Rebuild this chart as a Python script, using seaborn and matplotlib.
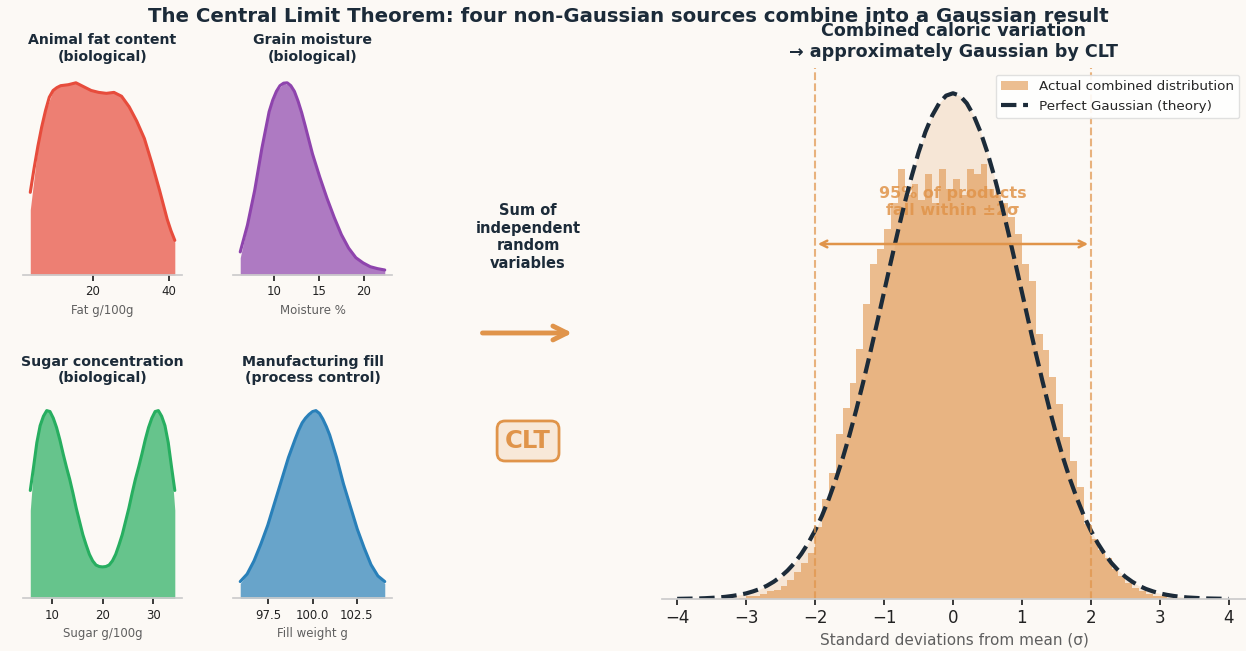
import matplotlib
matplotlib.use("Agg")
import matplotlib.pyplot as plt
import seaborn as sns

# colours
BG = "#fcf9f5"
NAVY = "#1c2b39"
ORANGE = "#e0944a"
GREY = "#5f5f5f"

# --- source distributions (relative heights) ---
# histogram outline (equal-width bins) and the smooth density line on top
fat_x = [3.5, 5.5, 7.5, 9.5, 11.5, 13.5, 15.5, 17.5, 19.5, 21.5,
         23.5, 25.5, 27.5, 29.5, 31.5, 33.5, 35.5, 37.5, 39.5, 41.5]
fat_hist = [0.34, 0.67, 0.855, 0.96, 0.985, 0.99, 1.00, 0.98, 0.96, 0.95,
            0.945, 0.95, 0.93, 0.875, 0.80, 0.71, 0.58, 0.44, 0.29, 0.17]
fat_line_x = [3.5, 4.5, 5.5, 6.5, 7.5, 8.5, 9.5, 10.5, 11.5, 13.5, 15.5, 17.5, 19.5,
              21.5, 23.5, 25.5, 27.5, 29.5, 31.5, 33.5, 35.5, 37.5, 39.5, 40.5, 41.5]
fat_line = [0.43, 0.555, 0.67, 0.77, 0.855, 0.925, 0.96, 0.975, 0.985, 0.99, 1.00, 0.98, 0.96,
            0.95, 0.945, 0.95, 0.93, 0.875, 0.80, 0.71, 0.58, 0.44, 0.29, 0.23, 0.18]

moist_x = [6.3, 7.1, 7.9, 8.7, 9.5, 10.3, 11.1, 11.9, 12.7, 13.5, 14.3,
           15.1, 15.9, 16.7, 17.5, 18.3, 19.1, 19.9, 20.7, 21.5, 22.3]
moist_hist = [0.09, 0.26, 0.44, 0.66, 0.85, 0.955, 0.998, 0.985, 0.905, 0.775, 0.63,
              0.51, 0.40, 0.30, 0.21, 0.14, 0.09, 0.063, 0.043, 0.033, 0.026]
moist_line_x = [6.3, 7.1, 7.9, 8.7, 9.5, 9.9, 10.3, 10.7, 11.1, 11.5, 11.9, 12.3, 12.7,
                13.1, 13.5, 14.3, 15.1, 15.9, 16.7, 17.5, 18.3, 19.1, 19.9, 20.7, 21.5, 22.3]
moist_line = [0.12, 0.26, 0.44, 0.66, 0.85, 0.91, 0.955, 0.985, 0.998, 1.00, 0.985, 0.955, 0.905,
              0.845, 0.775, 0.63, 0.51, 0.40, 0.30, 0.21, 0.14, 0.09, 0.063, 0.043, 0.033, 0.026]

sugar_x = [5.7, 6.35, 7.0, 7.65, 8.3, 8.95, 9.6, 10.25, 10.9, 11.55, 12.2, 12.85,
           13.5, 14.15, 14.8, 15.45, 16.1, 16.75, 17.4, 18.05, 18.7, 19.35, 20.0,
           20.65, 21.3, 21.95, 22.6, 23.25, 23.9, 24.55, 25.2, 25.85, 26.5, 27.15,
           27.8, 28.45, 29.1, 29.75, 30.4, 31.05, 31.7, 32.35, 33.0, 33.65, 34.3]
sugar_hist = [0.47, 0.70, 0.83, 0.92, 0.97, 1.00, 0.995, 0.96, 0.91, 0.845, 0.77, 0.70,
              0.635, 0.56, 0.48, 0.41, 0.34, 0.285, 0.235, 0.20, 0.178, 0.17, 0.168,
              0.17, 0.178, 0.20, 0.235, 0.285, 0.34, 0.41, 0.48, 0.56, 0.635, 0.70,
              0.77, 0.845, 0.91, 0.96, 0.995, 1.00, 0.97, 0.92, 0.83, 0.70, 0.47]
sugar_line_x = sugar_x
sugar_line = [0.575, 0.70, 0.83, 0.92, 0.97, 1.00, 0.995, 0.96, 0.91, 0.845, 0.77, 0.70,
              0.635, 0.56, 0.48, 0.41, 0.34, 0.285, 0.235, 0.20, 0.178, 0.17, 0.168,
              0.17, 0.178, 0.20, 0.235, 0.285, 0.34, 0.41, 0.48, 0.56, 0.635, 0.70,
              0.77, 0.845, 0.91, 0.96, 0.995, 1.00, 0.97, 0.92, 0.83, 0.70, 0.575]

fill_x = [95.90, 96.29, 96.68, 97.07, 97.46, 97.85, 98.24, 98.63, 99.02, 99.41, 99.80,
          100.19, 100.58, 100.97, 101.36, 101.75, 102.14, 102.53, 102.92, 103.31, 103.70, 104.09]
fill_hist = [0.08, 0.13, 0.20, 0.29, 0.39, 0.51, 0.63, 0.75, 0.85, 0.935, 0.98,
             1.00, 0.955, 0.87, 0.75, 0.61, 0.49, 0.37, 0.27, 0.18, 0.12, 0.08]
fill_line_x = [95.90, 96.29, 96.68, 97.07, 97.46, 97.85, 98.24, 98.63, 99.02, 99.21, 99.41,
               99.60, 99.80, 100.00, 100.19, 100.39, 100.58, 100.78, 100.97, 101.36, 101.75,
               102.14, 102.53, 102.92, 103.31, 103.70, 104.09]
fill_line = [0.09, 0.13, 0.20, 0.29, 0.39, 0.51, 0.63, 0.75, 0.85, 0.895, 0.935,
             0.96, 0.98, 0.995, 1.00, 0.985, 0.955, 0.915, 0.87, 0.75, 0.61,
             0.49, 0.37, 0.27, 0.18, 0.12, 0.09]

# --- combined distribution (density per 0.1-wide bin, in sigma units) ---
clt_centers = [-3.15, -3.05, -2.95, -2.85, -2.75, -2.65, -2.55, -2.45, -2.35, -2.25,
               -2.15, -2.05, -1.95, -1.85, -1.75, -1.65, -1.55, -1.45, -1.35, -1.25,
               -1.15, -1.05, -0.95, -0.85, -0.75, -0.65, -0.55, -0.45, -0.35, -0.25,
               -0.15, -0.05, 0.05, 0.15, 0.25, 0.35, 0.45, 0.55, 0.65, 0.75,
               0.85, 0.95, 1.05, 1.15, 1.25, 1.35, 1.45, 1.55, 1.65, 1.75,
               1.85, 1.95, 2.05, 2.15, 2.25, 2.35, 2.45, 2.55, 2.65, 2.75,
               2.85, 2.95, 3.05, 3.15]
clt_density = [0.000, 0.001, 0.002, 0.002, 0.004, 0.006, 0.007, 0.010, 0.015, 0.021,
               0.028, 0.036, 0.057, 0.079, 0.099, 0.130, 0.151, 0.170, 0.197, 0.233,
               0.264, 0.276, 0.292, 0.312, 0.339, 0.319, 0.327, 0.315, 0.335, 0.312,
               0.339, 0.323, 0.331, 0.319, 0.339, 0.335, 0.343, 0.323, 0.319, 0.312,
               0.301, 0.288, 0.264, 0.251, 0.209, 0.196, 0.175, 0.154, 0.128, 0.109,
               0.088, 0.059, 0.047, 0.039, 0.032, 0.024, 0.018, 0.013, 0.009, 0.006,
               0.004, 0.002, 0.002, 0.001]

# standard normal curve, right half (0 .. 4 sigma, step 0.1); mirrored for the left half
gauss_half_x = [0.0, 0.1, 0.2, 0.3, 0.4, 0.5, 0.6, 0.7, 0.8, 0.9, 1.0, 1.1, 1.2, 1.3, 1.4,
                1.5, 1.6, 1.7, 1.8, 1.9, 2.0, 2.1, 2.2, 2.3, 2.4, 2.5, 2.6, 2.7, 2.8, 2.9,
                3.0, 3.1, 3.2, 3.3, 3.4, 3.5, 3.6, 3.7, 3.8, 3.9, 4.0]
gauss_half_y = [0.3989, 0.3970, 0.3910, 0.3814, 0.3683, 0.3521, 0.3332, 0.3123, 0.2897,
                0.2661, 0.2420, 0.2179, 0.1942, 0.1714, 0.1497, 0.1295, 0.1109, 0.0940,
                0.0790, 0.0656, 0.0540, 0.0440, 0.0355, 0.0283, 0.0224, 0.0175, 0.0136,
                0.0104, 0.0079, 0.0060, 0.0044, 0.0033, 0.0024, 0.0017, 0.0012, 0.0009,
                0.0006, 0.0004, 0.0003, 0.0002, 0.0001]
gauss_x = [-v for v in gauss_half_x[::-1]] + gauss_half_x[1:]
gauss_y = gauss_half_y[::-1] + gauss_half_y[1:]

sns.set_theme(style="ticks", rc={
    "figure.facecolor": BG,
    "axes.facecolor": BG,
    "axes.edgecolor": "#cccccc",
    "xtick.major.size": 4,
    "xtick.color": "#222222",
})
plt.rcParams["font.family"] = ["DejaVu Sans"]

fig = plt.figure(figsize=(12.46, 6.51), dpi=100)


def small_panel(rect, x, hist_h, line_x, line_h, color, title, xlabel, ticks, pad):
    ax = fig.add_axes(rect)
    w = x[1] - x[0]
    sns.histplot(x=x, weights=hist_h, bins=len(x), binrange=(x[0] - w / 2, x[-1] + w / 2),
                 element="poly", color=color, alpha=0.7, linewidth=0, ax=ax)
    sns.lineplot(x=line_x, y=line_h, color=color, linewidth=2.2, ax=ax)
    ax.set_ylim(bottom=0)
    ax.set_yticks([])
    ax.set_ylabel("")
    ax.set_xticks(ticks)
    ax.tick_params(axis="x", labelsize=8.5)
    ax.set_xlabel(xlabel, fontsize=8.5, color=GREY)
    ax.set_title(title, fontsize=10.2, fontweight="bold", color=NAVY, pad=pad)
    sns.despine(ax=ax, left=True)
    return ax


small_panel([0.0185, 0.5776, 0.1276, 0.31], fat_x, fat_hist, fat_line_x, fat_line, "#e74c3c",
            "Animal fat content\n(biological)", "Fat g/100g", [20, 40], 9)
small_panel([0.187, 0.5776, 0.1276, 0.31], moist_x, moist_hist, moist_line_x, moist_line, "#8e44ad",
            "Grain moisture\n(biological)", "Moisture %", [10, 15, 20], 9)
small_panel([0.0185, 0.0807, 0.1276, 0.303], sugar_x, sugar_hist, sugar_line_x, sugar_line, "#27ae60",
            "Sugar concentration\n(biological)", "Sugar g/100g", [10, 20, 30], 14)
small_panel([0.187, 0.0807, 0.1276, 0.303], fill_x, fill_hist, fill_line_x, fill_line, "#2980b9",
            "Manufacturing fill\n(process control)", "Fill weight g", [97.5, 100.0, 102.5], 14)

# --- combined panel ---
ax = fig.add_axes([0.5313, 0.0799, 0.4687, 0.8157])
ax.fill_between(gauss_x, gauss_y, color=ORANGE, alpha=0.18, linewidth=0)
sns.histplot(x=clt_centers, weights=clt_density, bins=len(clt_centers),
             binrange=(clt_centers[0] - 0.05, clt_centers[-1] + 0.05),
             color=ORANGE, alpha=0.6, linewidth=0, ax=ax,
             label="Actual combined distribution")
sns.lineplot(x=gauss_x, y=gauss_y, color=NAVY, linewidth=3, linestyle="--", ax=ax,
             label="Perfect Gaussian (theory)")
for s in (-2, 2):
    ax.axvline(s, color=ORANGE, linestyle="--", linewidth=1.5, alpha=0.7)
ax.annotate("", xy=(-2, 0.28), xytext=(2, 0.28),
            arrowprops=dict(arrowstyle="<->", color=ORANGE, lw=1.8))
ax.text(0, 0.313, "95% of products\nfall within ±2σ", ha="center", va="center",
        fontsize=11.5, fontweight="bold", color=ORANGE, alpha=0.85, zorder=1.5)
ax.set_xlim(-4.22, 4.25)
ax.set_ylim(bottom=0)
ax.set_yticks([])
ax.set_ylabel("")
ax.tick_params(axis="x", labelsize=12)
ax.set_xlabel("Standard deviations from mean (σ)", fontsize=11, color=GREY)
ax.set_title("Combined caloric variation\n→ approximately Gaussian by CLT",
             fontsize=12.6, fontweight="bold", color=NAVY, pad=8)
handles, labels = ax.get_legend_handles_labels()
order = [labels.index("Actual combined distribution"), labels.index("Perfect Gaussian (theory)")]
ax.legend([handles[i] for i in order], [labels[i] for i in order],
          loc="upper right", fontsize=9.7, frameon=True, facecolor="white",
          edgecolor="#dddddd", framealpha=0.9)
sns.despine(ax=ax, left=True)

# --- middle annotations ---
fig.text(0.4238, 0.636, "Sum of\nindependent\nrandom\nvariables", ha="center", va="center",
         fontsize=10.5, fontweight="bold", color=NAVY)
ax.annotate("", xy=(0.4615, 0.4885), xycoords="figure fraction",
            xytext=(0.385, 0.4885), textcoords="figure fraction",
            arrowprops=dict(arrowstyle="->", color=ORANGE, lw=3.5, mutation_scale=25))
fig.text(0.4238, 0.3226, "CLT", ha="center", va="center", fontsize=17.5,
         fontweight="bold", color=ORANGE,
         bbox=dict(boxstyle="round,pad=0.33", facecolor="#f8e8d8", edgecolor=ORANGE, lw=2))

fig.suptitle("The Central Limit Theorem: four non-Gaussian sources combine into a Gaussian result",
             x=0.504, y=0.974, va="center", fontsize=14.2, fontweight="bold", color=NAVY)

fig.savefig("out.png", dpi=100, facecolor=BG)
